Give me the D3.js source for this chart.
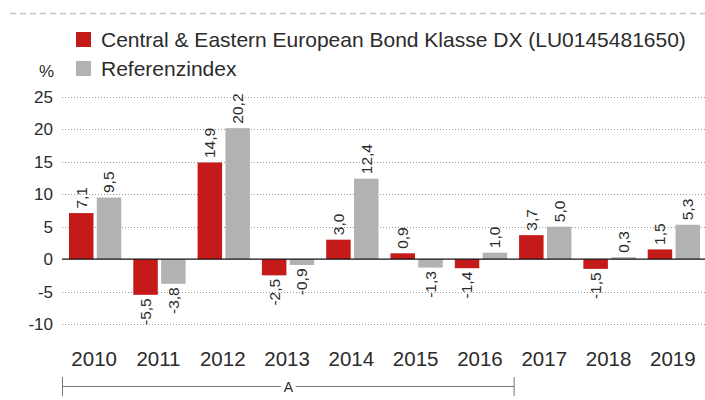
<!DOCTYPE html>
<html>
<head>
<meta charset="utf-8">
<script src="https://cdn.jsdelivr.net/npm/d3@7"></script>
<style>
  body { margin: 0; background: #fff; }
  svg { display: block; font-family: "Liberation Sans", Arial, Helvetica, sans-serif; }
</style>
</head>
<body>
<svg id="chart" width="705" height="400"></svg>
<script>
const years = ["2010", "2011", "2012", "2013", "2014", "2015", "2016", "2017", "2018", "2019"];
const fund = [7.1, -5.5, 14.9, -2.5, 3.0, 0.9, -1.4, 3.7, -1.5, 1.5];
const index = [9.5, -3.8, 20.2, -0.9, 12.4, -1.3, 1.0, 5.0, 0.3, 5.3];
const seriesNames = ["Central & Eastern European Bond Klasse DX (LU0145481650)", "Referenzindex"];
const yTicks = [25, 20, 15, 10, 5, 0, -5, -10];
const bracket = { from: "2010", to: "2016", label: "A" };

const colors = ["#c41a1a", "#b1b2b4"];
const textColor = "#2b2b2b";

var svg = d3.select("#chart");

let left = 62, right = 705;
let x = d3.scaleBand().domain(years).range([left, right]);
let xs = d3.scaleBand().domain([0, 1]).range([7, x.bandwidth() - 5]).paddingInner(0.12);
let y = d3.scaleLinear().domain([-10, 25]).range([324, 97]);

// top dashed rule
svg.append("line")
	.attr("x1", 10).attr("x2", 705)
	.attr("y1", 13.5).attr("y2", 13.5)
	.attr("stroke", "#c4c4c4")
	.attr("stroke-width", 1.5)
	.attr("stroke-dasharray", "6,4");

// grid
svg.append("g")
	.selectAll("line")
	.data(yTicks.filter(d => d !== 0))
	.join("line")
	.attr("x1", left).attr("x2", right)
	.attr("y1", d => Math.round(y(d)) + 0.5)
	.attr("y2", d => Math.round(y(d)) + 0.5)
	.attr("stroke", "#999")
	.attr("stroke-dasharray", "1,2");

// y labels
svg.append("g")
	.selectAll("text")
	.data(yTicks)
	.join("text")
	.attr("x", 53)
	.attr("y", d => y(d))
	.attr("dy", "0.35em")
	.attr("text-anchor", "end")
	.attr("font-size", 17)
	.attr("fill", textColor)
	.text(d => d);

svg.append("text")
	.attr("x", 54).attr("y", 77)
	.attr("text-anchor", "end")
	.attr("font-size", 17)
	.attr("fill", textColor)
	.text("%");

// bars
const data = [];
years.forEach(function (yr, i) {
	data.push({ year: yr, s: 0, v: fund[i] });
	data.push({ year: yr, s: 1, v: index[i] });
});

svg.append("g")
	.selectAll("rect")
	.data(data)
	.join("rect")
	.attr("x", d => x(d.year) + xs(d.s))
	.attr("width", xs.bandwidth())
	.attr("y", d => y(Math.max(0, d.v)))
	.attr("height", d => Math.abs(y(d.v) - y(0)))
	.attr("fill", d => colors[d.s]);

// zero line
svg.append("line")
	.attr("x1", left).attr("x2", right)
	.attr("y1", y(0)).attr("y2", y(0))
	.attr("stroke", "#111")
	.attr("stroke-width", 1.2);

// value labels
svg.append("g")
	.selectAll("text")
	.data(data)
	.join("text")
	.attr("transform", function (d) {
		const cx = x(d.year) + xs(d.s) + xs.bandwidth() / 2;
		const cy = d.v >= 0 ? y(d.v) - 4.5 : y(d.v) + 3.5;
		return `translate(${cx},${cy}) rotate(-90)`;
	})
	.attr("text-anchor", d => d.v >= 0 ? "start" : "end")
	.attr("dy", "0.35em")
	.attr("font-size", 15.5)
	.attr("fill", textColor)
	.text(d => d3.format(".1f")(d.v).replace(".", ",").replace("−", "-"));

// x labels
svg.append("g")
	.selectAll("text")
	.data(years)
	.join("text")
	.attr("x", d => x(d) + x.bandwidth() / 2)
	.attr("y", 366)
	.attr("text-anchor", "middle")
	.attr("font-size", 20.5)
	.attr("fill", textColor)
	.text(d => d);

// bracket
const bx1 = x(bracket.from) + 0.5, bx2 = x(bracket.to) + x.bandwidth() + 2;
const bmid = (bx1 + bx2) / 2;
const bg = svg.append("g").attr("stroke", "#777").attr("stroke-width", 1);
bg.append("line").attr("x1", bx1).attr("x2", bmid - 7.5).attr("y1", 386.5).attr("y2", 386.5);
bg.append("line").attr("x1", bmid + 7.5).attr("x2", bx2).attr("y1", 386.5).attr("y2", 386.5);
bg.append("line").attr("x1", bx1).attr("x2", bx1).attr("y1", 377).attr("y2", 396);
bg.append("line").attr("x1", bx2).attr("x2", bx2).attr("y1", 377).attr("y2", 396);
svg.append("text")
	.attr("x", bmid).attr("y", 391.5)
	.attr("text-anchor", "middle")
	.attr("font-size", 14)
	.attr("fill", textColor)
	.text(bracket.label);

// legend
const legend = svg.append("g")
	.selectAll("g")
	.data(seriesNames)
	.join("g")
	.attr("transform", (d, i) => `translate(76,${32 + i * 29})`);
legend.append("rect")
	.attr("width", 15).attr("height", 15)
	.attr("fill", (d, i) => colors[i]);
legend.append("text")
	.attr("x", 25).attr("y", 15)
	.attr("font-size", 21)
	.attr("fill", textColor)
	.text(d => d);
</script>
</body>
</html>
